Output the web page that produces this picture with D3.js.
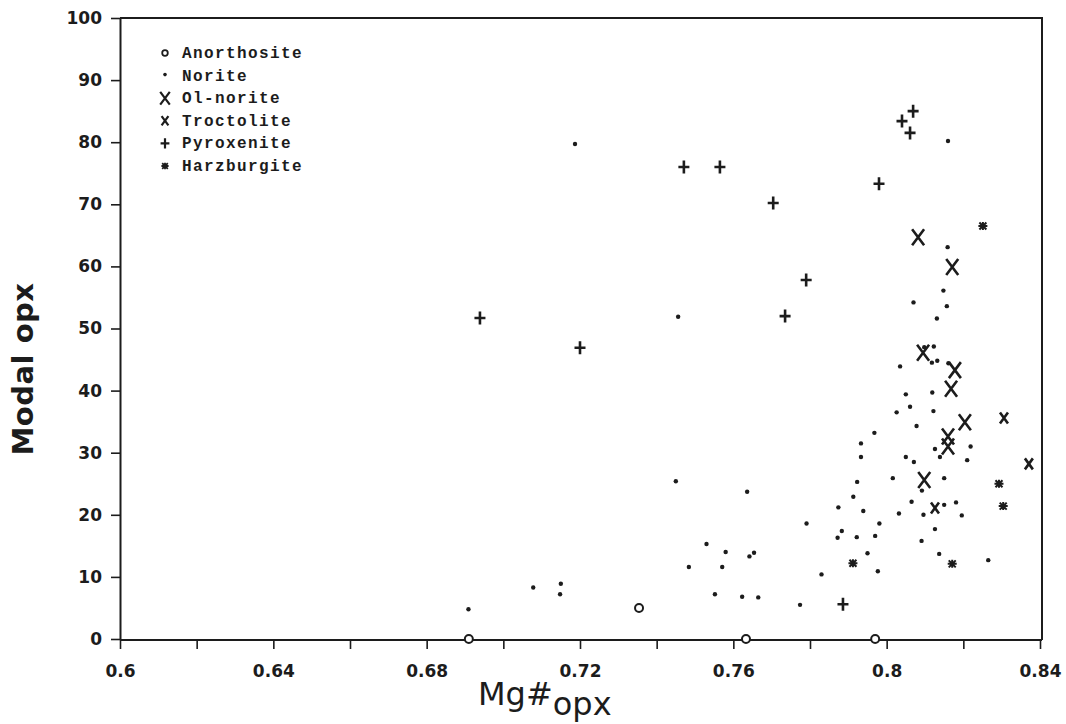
<!DOCTYPE html>
<html>
<head>
<meta charset="utf-8">
<script src="https://cdn.jsdelivr.net/npm/d3@7/dist/d3.min.js"></script>
<style>
  html, body { margin: 0; padding: 0; background: #ffffff; }
  svg { display: block; }
</style>
</head>
<body>
<div id="chart"></div>
<script>
// ---- data ----
const categories = ["Anorthosite", "Norite", "Ol-norite", "Troctolite", "Pyroxenite", "Harzburgite"];

const anorthosite = [[0.691, 0], [0.7354, 5.0], [0.7633, 0], [0.797, 0]];

const norite = [
  [0.7187, 79.7], [0.7456, 51.9], [0.816, 80.2], [0.8159, 63.1], [0.8148, 56.1], [0.8157, 53.6],
  [0.8131, 51.6], [0.807, 54.2], [0.8123, 47.1], [0.8098, 47.0], [0.8118, 44.5], [0.8132, 44.8],
  [0.8035, 43.9], [0.8161, 44.4], [0.805, 39.4], [0.8119, 39.7], [0.8061, 37.4], [0.8026, 36.5],
  [0.8122, 36.7], [0.8078, 34.3], [0.7968, 33.2], [0.7933, 31.5], [0.7933, 29.3], [0.805, 29.3],
  [0.8071, 28.5], [0.8126, 30.6], [0.8139, 29.3], [0.8219, 31.0], [0.821, 28.8], [0.8016, 25.9],
  [0.815, 25.9], [0.8092, 23.9], [0.7923, 25.3], [0.7913, 22.9], [0.7874, 21.2], [0.7939, 20.6],
  [0.8032, 20.2], [0.8065, 22.1], [0.8096, 20.0], [0.815, 21.6], [0.8181, 22.0], [0.8196, 19.9],
  [0.7791, 18.6], [0.7883, 17.4], [0.7872, 16.3], [0.7922, 16.4], [0.7981, 18.6], [0.797, 16.6],
  [0.8126, 17.7], [0.795, 13.8], [0.8091, 15.8], [0.8137, 13.7], [0.8265, 12.7], [0.783, 10.4],
  [0.7977, 10.9], [0.7774, 5.5], [0.6909, 4.8], [0.7078, 8.3], [0.715, 8.9], [0.7148, 7.2],
  [0.745, 25.4], [0.7636, 23.7], [0.753, 15.3], [0.758, 14.0], [0.7642, 13.3], [0.7654, 13.9],
  [0.7484, 11.6], [0.7571, 11.6], [0.7552, 7.2], [0.7623, 6.8], [0.7665, 6.7]
];

const olNorite = [
  [0.8082, 64.7], [0.8171, 59.9], [0.8095, 46.1], [0.8178, 43.3], [0.8168, 40.3],
  [0.8204, 34.9], [0.816, 32.6], [0.816, 31.0], [0.8098, 25.6]
];

const troctolite = [[0.8306, 35.6], [0.8371, 28.2], [0.8126, 21.1]];

const pyroxenite = [
  [0.6939, 51.7], [0.72, 46.9], [0.7471, 76.0], [0.7565, 76.0], [0.7704, 70.2], [0.779, 57.8],
  [0.7735, 52.0], [0.798, 73.3], [0.8069, 85.0], [0.804, 83.4], [0.8061, 81.5], [0.7886, 5.6]
];

const harzburgite = [[0.8251, 66.5], [0.8293, 25.0], [0.8304, 21.4], [0.7912, 12.2], [0.8171, 12.1]];

const xTicks = [0.6, 0.62, 0.64, 0.66, 0.68, 0.70, 0.72, 0.74, 0.76, 0.78, 0.80, 0.82, 0.84];
const xTickLabels = ["0.6", "", "0.64", "", "0.68", "", "0.72", "", "0.76", "", "0.8", "", "0.84"];
const yTicks = [0, 10, 20, 30, 40, 50, 60, 70, 80, 90, 100];
const yTickLabels = ["0", "10", "20", "30", "40", "50", "60", "70", "80", "90", "100"];

// ---- drawing ----
const W = 1066, H = 724;
const ink = "#1c1c1c";
const svg = d3.select("#chart").append("svg").attr("width", W).attr("height", H);

const x = d3.scaleLinear().domain([0.6, 0.84]).range([120, 1040]);
const y = d3.scaleLinear().domain([0, 100]).range([639, 18]);

const [x0, x1] = x.range();
const [y0, y1] = y.range();

// frame (top and right)
svg.append("path")
  .attr("d", `M${x0},${y1}H${x1 + 2}V${y0 + 1}`)
  .attr("fill", "none").attr("stroke", ink).attr("stroke-width", 2);

// axes
const xAxis = d3.axisBottom(x).tickValues(xTicks)
  .tickFormat((d, i) => xTickLabels[i]).tickSizeInner(9).tickSizeOuter(0).tickPadding(16);
const gx = svg.append("g").attr("transform", `translate(0,${y0 + 1})`).call(xAxis);
gx.select(".domain").attr("d", `M${x0},0H${x1 + 2}`);

const yAxis = d3.axisLeft(y).tickValues(yTicks)
  .tickFormat((d, i) => yTickLabels[i]).tickSizeInner(9).tickSizeOuter(0).tickPadding(9);
const gy = svg.append("g").attr("transform", `translate(${x0},0)`).call(yAxis);

[gx, gy].forEach(g => {
  g.select(".domain").attr("stroke", ink).attr("stroke-width", 2);
  g.selectAll(".tick line").attr("stroke", ink).attr("stroke-width", 1.6);
  g.selectAll(".tick text")
    .attr("fill", ink)
    .style("font-family", "'DejaVu Sans', sans-serif")
    .style("font-weight", "bold")
    .style("font-size", "17px");
});

// axis titles
svg.append("text")
  .attr("transform", `translate(33,369) rotate(-90)`)
  .attr("text-anchor", "middle")
  .attr("fill", ink)
  .style("font-family", "'DejaVu Sans', sans-serif")
  .style("font-weight", "bold")
  .style("font-size", "29px")
  .style("letter-spacing", "0.5px")
  .text("Modal opx");

const xt = svg.append("text")
  .attr("x", 478).attr("y", 705)
  .attr("fill", ink)
  .style("font-family", "'DejaVu Sans', sans-serif")
  .style("font-size", "32px");
xt.append("tspan").text("Mg#");
xt.append("tspan").attr("dy", 10).text("opx");

// symbol shapes
function symbolPath(type, s) {
  switch (type) {
    case "Ol-norite":
      return `M${-6 * s},${-8 * s}L${6 * s},${8 * s}M${6 * s},${-8 * s}L${-6 * s},${8 * s}`;
    case "Troctolite":
      return `M${-4 * s},${-5.5 * s}L${4 * s},${5.5 * s}M${4 * s},${-5.5 * s}L${-4 * s},${5.5 * s}`;
    case "Pyroxenite":
      return `M${-5.5 * s},0H${5.5 * s}M0,${-6.5 * s}V${6.5 * s}`;
    case "Harzburgite":
      return `M${-4.5 * s},0H${4.5 * s}M${-3.5 * s},${-3.5 * s}L${3.5 * s},${3.5 * s}M${3.5 * s},${-3.5 * s}L${-3.5 * s},${3.5 * s}M0,${-4 * s}V${4 * s}`;
    default:
      return "";
  }
}

function drawSeries(g, type, data, s) {
  const sel = g.selectAll(null).data(data);
  if (type === "Anorthosite") {
    sel.enter().append("circle")
      .attr("cx", d => x(d[0])).attr("cy", d => y(d[1]))
      .attr("r", 4 * s).attr("fill", "#fff").attr("stroke", ink).attr("stroke-width", 2);
  } else if (type === "Norite") {
    sel.enter().append("circle")
      .attr("cx", d => x(d[0])).attr("cy", d => y(d[1]))
      .attr("r", 2.2 * s).attr("fill", ink);
  } else {
    sel.enter().append("path")
      .attr("transform", d => `translate(${x(d[0])},${y(d[1])})`)
      .attr("d", symbolPath(type, s))
      .attr("fill", "none").attr("stroke", ink)
      .attr("stroke-width", type === "Harzburgite" ? 2 : 2.6)
      .attr("stroke-linecap", "butt");
  }
}

const seriesData = [anorthosite, norite, olNorite, troctolite, pyroxenite, harzburgite];
const plot = svg.append("g");
categories.forEach((c, i) => drawSeries(plot.append("g"), c, seriesData[i], 1));

// legend
const leg = svg.append("g");
categories.forEach((c, i) => {
  const cy = 53 + i * 22.6;
  const row = leg.append("g");
  const sx = 165;
  if (c === "Anorthosite") {
    row.append("circle").attr("cx", sx).attr("cy", cy).attr("r", 2.8)
      .attr("fill", "#fff").attr("stroke", ink).attr("stroke-width", 1.8);
  } else if (c === "Norite") {
    row.append("circle").attr("cx", sx).attr("cy", cy - 1).attr("r", 1.8).attr("fill", ink);
  } else {
    const s = c === "Troctolite" ? 0.85 : 0.8;
    row.append("path")
      .attr("transform", `translate(${sx},${cy})`)
      .attr("d", symbolPath(c, s))
      .attr("fill", "none").attr("stroke", ink)
      .attr("stroke-width", c === "Harzburgite" ? 1.8 : 2.2);
  }
  row.append("text")
    .attr("x", 182).attr("y", cy + 5)
    .attr("fill", ink)
    .style("font-family", "'Liberation Mono', 'Courier New', monospace")
    .style("font-weight", "bold")
    .style("font-size", "16px")
    .style("letter-spacing", "1.4px")
    .text(c);
});
</script>
</body>
</html>
